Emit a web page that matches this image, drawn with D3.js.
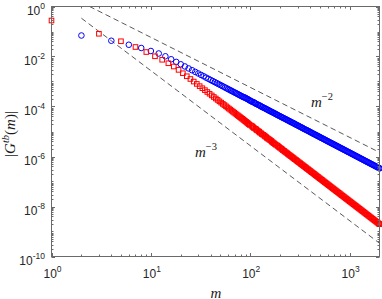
<!DOCTYPE html>
<html><head><meta charset="utf-8">
<script src="https://cdn.jsdelivr.net/npm/d3@7"></script>
<style>body{margin:0;background:#fff}svg{display:block}</style>
</head><body>
<svg id="chart" width="382" height="299"></svg>
<script>
// ---- data ----
const mEven = [2,4,6,8,10,12,14,16,18,20,22,24,26,28,30,32,34,36,38,40,42,44,46,48,50,52,54,56,58,60,62,64,66,68,70,72,74,76,78,80,82,84,86,
88,90,92,94,96,98,100,102,104,108,110,112,114,118,120,124,126,128,132,134,138,142,144,148,152,154,158,162,166,170,174,178,182,186,190,194,200,204,208,214,218,224,230,234,240,246,252,256,264,270,276,282,288,296,302,310,316,324,332,338,346,354,364,372,380,390,398,408,416,426,436,446,458,468,478,490,502,512,524,538,550,562,576,588,602,616,630,646,660,676,692,708,724,742,758,776,794,812,832,852,870,892,912,934,954,978,1000,1024,1048,1072,1096,1122,1148,1176,1202,1230,1258,1288,1318,1348,1380,1412,1446,1478,1514,1548,1584,1622,1660,1698,1738,1778,1820,1862,1906,1950,1996,2000];
const blueVals = [6.92e-2,4.27e-2,2.95e-2,2.19e-2,1.66e-2,1.32e-2,1.02e-2,7.76e-3,6.07e-3,4.88e-3,4.00e-3,3.33e-3,2.82e-3,2.42e-3,2.10e-3,1.83e-3,1.62e-3,1.43e-3,1.28e-3,1.15e-3,1.04e-3,9.46e-4,8.61e-4,7.89e-4,7.24e-4,6.68e-4,6.18e-4,5.73e-4,5.32e-4,4.95e-4,4.63e-4,4.34e-4,4.06e-4,3.82e-4,3.60e-4,3.40e-4,3.21e-4,3.03e-4,2.87e-4,2.72e-4,2.59e-4,2.46e-4,2.34e-4,
2.29e-4,2.18e-4,2.07e-4,1.98e-4,1.89e-4,1.80e-4,1.71e-4,1.63e-4,1.56e-4,1.49e-4,1.42e-4,1.35e-4,1.29e-4,1.22e-4,1.17e-4,1.11e-4,1.06e-4,1.01e-4,9.64e-5,9.20e-5,8.77e-5,8.36e-5,7.96e-5,7.59e-5,7.24e-5,6.90e-5,6.58e-5,6.27e-5,5.97e-5,5.70e-5,5.43e-5,5.18e-5,4.93e-5,4.70e-5,4.49e-5,4.28e-5,4.07e-5,3.88e-5,3.70e-5,3.53e-5,3.37e-5,3.21e-5,3.05e-5,2.91e-5,2.78e-5,2.65e-5,2.52e-5,2.40e-5,2.29e-5,2.19e-5,2.08e-5,1.99e-5,1.89e-5,1.80e-5,1.72e-5,1.64e-5,1.56e-5,1.49e-5,1.42e-5,1.36e-5,1.29e-5,1.23e-5,1.17e-5,1.12e-5,1.07e-5,1.02e-5,9.68e-6,9.23e-6,8.80e-6,8.39e-6,8.00e-6,7.62e-6,7.26e-6,6.92e-6,6.60e-6,6.29e-6,6.00e-6,5.71e-6,5.45e-6,5.20e-6,4.95e-6,4.72e-6,4.50e-6,4.29e-6,4.09e-6,3.90e-6,3.72e-6,3.54e-6,3.37e-6,3.22e-6,3.07e-6,2.92e-6,2.79e-6,2.65e-6,2.53e-6,2.42e-6,2.30e-6,2.19e-6,2.09e-6,2.00e-6,1.90e-6,1.81e-6,1.73e-6,1.64e-6,1.57e-6,1.50e-6,1.43e-6,1.36e-6,1.29e-6,1.24e-6,1.18e-6,1.12e-6,1.07e-6,1.02e-6,9.72e-7,9.27e-7,8.83e-7,8.41e-7,8.02e-7,7.65e-7,7.29e-7,6.95e-7,6.62e-7,6.31e-7,6.02e-7,5.74e-7,5.47e-7,5.21e-7,4.97e-7,4.74e-7,4.52e-7,4.31e-7,4.10e-7,3.91e-7,3.73e-7,3.56e-7,3.39e-7,3.37e-7];

const mOdd = [1,3,5,7,9,11,13,15,17,19,21,23,25,27,29,31,33,35,37,39,41,43,45,47,49,51,53,55,57,59,61,63,65,67,69,71,73,75,77,79,81,83,85,
87,89,91,93,95,97,99,103,105,107,109,113,115,117,121,123,125,129,131,135,139,141,145,147,151,155,159,163,165,169,173,177,181,187,191,195,199,205,209,213,219,223,229,235,239,245,251,257,263,269,275,281,289,295,301,309,317,323,331,339,347,355,363,371,381,389,399,407,417,427,437,447,457,467,479,489,501,513,525,537,549,563,575,589,603,617,631,645,661,677,691,707,725,741,759,777,795,813,831,851,871,891,913,933,955,977,1001,1023,1047,1071,1097,1123,1149,1175,1203,1231,1259,1289,1319,1349,1381,1413,1445,1479,1513,1549,1585,1623,1659,1699,1737,1779,1819,1863,1905,1949,1995,1999];
const redVals = [2.75e-1,8.13e-2,4.07e-2,2.40e-2,1.51e-2,1.02e-2,7.41e-3,5.37e-3,3.98e-3,2.92e-3,2.14e-3,1.62e-3,1.26e-3,9.94e-4,8.00e-4,6.52e-4,5.38e-4,4.51e-4,3.80e-4,3.24e-4,2.78e-4,2.40e-4,2.09e-4,1.83e-4,1.61e-4,1.43e-4,1.27e-4,1.14e-4,1.02e-4,9.16e-5,8.28e-5,7.50e-5,6.82e-5,6.21e-5,5.69e-5,5.21e-5,4.79e-5,4.41e-5,4.06e-5,3.76e-5,3.48e-5,3.24e-5,3.01e-5,
2.79e-5,2.60e-5,2.43e-5,2.26e-5,2.11e-5,1.96e-5,1.83e-5,1.71e-5,1.59e-5,1.48e-5,1.38e-5,1.29e-5,1.20e-5,1.12e-5,1.04e-5,9.73e-6,9.08e-6,8.46e-6,7.89e-6,7.35e-6,6.85e-6,6.38e-6,5.96e-6,5.55e-6,5.18e-6,4.82e-6,4.50e-6,4.19e-6,3.91e-6,3.64e-6,3.40e-6,3.16e-6,2.95e-6,2.75e-6,2.56e-6,2.39e-6,2.23e-6,2.07e-6,1.94e-6,1.80e-6,1.68e-6,1.57e-6,1.46e-6,1.36e-6,1.27e-6,1.18e-6,1.10e-6,1.03e-6,9.59e-7,8.94e-7,8.34e-7,7.77e-7,7.24e-7,6.75e-7,6.29e-7,5.86e-7,5.47e-7,5.09e-7,4.75e-7,4.43e-7,4.13e-7,3.85e-7,3.59e-7,3.34e-7,3.12e-7,2.90e-7,2.71e-7,2.52e-7,2.35e-7,2.19e-7,2.05e-7,1.91e-7,1.78e-7,1.66e-7,1.55e-7,1.44e-7,1.34e-7,1.25e-7,1.17e-7,1.09e-7,1.01e-7,9.44e-8,8.81e-8,8.20e-8,7.65e-8,7.13e-8,6.65e-8,6.19e-8,5.78e-8,5.38e-8,5.02e-8,4.68e-8,4.36e-8,4.06e-8,3.79e-8,3.53e-8,3.30e-8,3.07e-8,2.86e-8,2.67e-8,2.49e-8,2.32e-8,2.16e-8,2.01e-8,1.88e-8,1.75e-8,1.63e-8,1.52e-8,1.42e-8,1.32e-8,1.23e-8,1.15e-8,1.07e-8,9.98e-9,9.31e-9,8.67e-9,8.09e-9,7.54e-9,7.03e-9,6.55e-9,6.11e-9,5.69e-9,5.31e-9,4.94e-9,4.61e-9,4.30e-9,4.01e-9,3.73e-9,3.48e-9,3.24e-9,3.03e-9,2.82e-9,2.63e-9,2.45e-9,2.29e-9,2.13e-9,1.99e-9,1.97e-9];

// reference power-law guide lines (endpoints)
const guideM = [2, 2000];
const guideSlope2 = [1.46, 1.46e-6];   // ~ m^-2
const guideSlope3 = [0.34, 3.4e-10];   // ~ m^-3

const xTickExps = [0, 1, 2, 3];
const yTickExps = [0, -2, -4, -6, -8, -10];

// ---- layout ----
const L = 51.5, R = 379.5, T = 6.5, B = 256.5;
const svg = d3.select('#chart');
const x = d3.scaleLog().domain([1, 2000]).range([L, R]);
const y = d3.scaleLog().domain([1e-10, 1]).range([B, T]);

svg.append('rect').attr('width', 382).attr('height', 299).attr('fill', '#fff');

svg.append('defs').append('clipPath').attr('id', 'clip')
  .append('rect').attr('x', L).attr('y', T).attr('width', R - L).attr('height', B - T);

// guide lines
const line = d3.line().x(d => x(d[0])).y(d => y(d[1]));
[guideSlope2, guideSlope3].forEach(vals => {
  svg.append('path')
    .attr('clip-path', 'url(#clip)')
    .attr('d', line(guideM.map((m, i) => [m, vals[i]])))
    .attr('fill', 'none').attr('stroke', '#222').attr('stroke-width', 0.75)
    .attr('stroke-dasharray', '5.5,3.5');
});

// data markers
const blue = mEven.map((m, i) => [m, blueVals[i]]).filter(d => d[1] !== undefined);
const red = mOdd.map((m, i) => [m, redVals[i]]).filter(d => d[1] !== undefined);

svg.append('g').selectAll('circle').data(blue).join('circle')
  .attr('cx', d => x(d[0])).attr('cy', d => y(d[1])).attr('r', 2.8)
  .attr('fill', 'none').attr('stroke', '#0000ff').attr('stroke-width', 1);

const sq = 4.6;
svg.append('g').selectAll('rect').data(red).join('rect')
  .attr('x', d => x(d[0]) - sq / 2).attr('y', d => y(d[1]) - sq / 2)
  .attr('width', sq).attr('height', sq)
  .attr('fill', 'none').attr('stroke', '#ff0000').attr('stroke-width', 1);

// axes box
const axisColor = '#6a6a6a';
svg.append('rect').attr('x', L).attr('y', T).attr('width', R - L).attr('height', B - T)
  .attr('fill', 'none').attr('stroke', axisColor).attr('stroke-width', 1);

// ticks
const xMinor = [];
xTickExps.forEach(e => { for (let j = 2; j < 10; j++) { const v = j * Math.pow(10, e); if (v < 2000) xMinor.push(v); } });
const yMinor = [];
for (let e = -10; e < 0; e++) {
  for (let j = 1; j < 10; j++) {
    if (j === 1 && yTickExps.includes(e)) continue;
    yMinor.push(j * Math.pow(10, e));
  }
}
const tg = svg.append('g').attr('stroke', axisColor).attr('stroke-width', 1);
function xt(v, len) {
  const px = Math.round(x(v)) + 0.5;
  tg.append('line').attr('x1', px).attr('x2', px).attr('y1', B).attr('y2', B - len);
  tg.append('line').attr('x1', px).attr('x2', px).attr('y1', T).attr('y2', T + len);
}
function yt(v, len) {
  const py = Math.round(y(v)) + 0.5;
  tg.append('line').attr('y1', py).attr('y2', py).attr('x1', L).attr('x2', L + len);
  tg.append('line').attr('y1', py).attr('y2', py).attr('x1', R).attr('x2', R - len);
}
xTickExps.forEach(e => xt(Math.pow(10, e), 3.5));
xMinor.forEach(v => xt(v, 2));
yTickExps.forEach(e => yt(Math.pow(10, e), 3.5));
yMinor.forEach(v => yt(v, 2));

// tick labels
const tickFont = '"Liberation Sans", Arial, Helvetica, sans-serif';
xTickExps.forEach(e => {
  const t = svg.append('text').attr('x', x(Math.pow(10, e)) + 1).attr('y', 277.5)
    .attr('text-anchor', 'middle').attr('font-family', tickFont).attr('font-size', 12).attr('fill', '#262626');
  t.append('tspan').text('10');
  t.append('tspan').attr('dy', -6).attr('font-size', 8.5).text(String(e));
});
yTickExps.forEach(e => {
  const t = svg.append('text').attr('x', 45).attr('y', y(Math.pow(10, e)) + 8.5)
    .attr('text-anchor', 'end').attr('font-family', tickFont).attr('font-size', 12).attr('fill', '#262626');
  t.append('tspan').text('10');
  t.append('tspan').attr('dy', -6).attr('font-size', 8.5).text(String(e));
});

// math labels
const mathFont = '"Liberation Serif", "Times New Roman", Times, serif';
function mathText(xp, yp, parts, opts = {}) {
  const t = svg.append('text').attr('x', xp).attr('y', yp)
    .attr('font-family', mathFont).attr('font-size', 15).attr('fill', '#1a1a1a')
    .attr('text-anchor', opts.anchor || 'start');
  if (opts.rotate) t.attr('transform', `rotate(${opts.rotate},${xp},${yp})`);
  parts.forEach(p => {
    const s = t.append('tspan').text(p.t);
    if (p.i) s.attr('font-style', 'italic');
    if (p.fs) s.attr('font-size', p.fs);
    if (p.dy) s.attr('dy', p.dy);
  });
  return t;
}
mathText(216, 297.5, [{t: 'm', i: 1}], {anchor: 'middle'});
mathText(311, 107, [{t: 'm', i: 1}, {t: '\u22122', fs: 10.5, dy: -7}]);
mathText(195, 157, [{t: 'm', i: 1}, {t: '\u22123', fs: 10.5, dy: -7}]);
mathText(14.5, 134, [
  {t: '|'}, {t: 'G', i: 1}, {t: 'tb', i: 1, fs: 10.5, dy: -6},
  {t: '(', dy: 6}, {t: 'm', i: 1}, {t: ')|'}
], {anchor: 'middle', rotate: -90});
</script>
</body></html>
